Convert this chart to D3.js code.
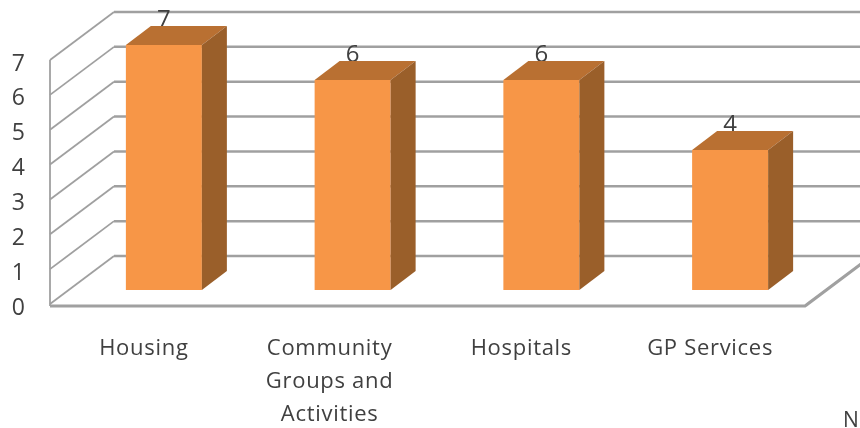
<!DOCTYPE html>
<html>
<head>
<meta charset="utf-8">
<script src="https://cdn.jsdelivr.net/npm/d3@7"></script>
<style>
  html, body { margin: 0; padding: 0; background: #fff; overflow: hidden; }
  text { font-family: "Open Sans", "Noto Sans", sans-serif; fill: #404040; }
</style>
</head>
<body>
<div id="chart"></div>
<script>
var categories = ["Housing", "Community Groups and Activities", "Hospitals", "GP Services"];
var values = [7, 6, 6, 4];
var yTicks = [0, 1, 2, 3, 4, 5, 6, 7];
var catLines = [["Housing"], ["Community", "Groups and", "Activities"], ["Hospitals"], ["GP Services"]];

var width = 860, height = 428;
var wallDx = 64, wallDy = -48;   // depth of the chart box
var barDx = 25, barDy = -19;     // depth of a bar
var barWidth = 76;

var svg = d3.select("#chart").append("svg")
    .attr("width", width)
    .attr("height", height);

// the reference is a soft, upscaled picture
svg.append("defs").append("filter")
    .attr("id", "soft")
  .append("feGaussianBlur")
    .attr("stdDeviation", 0.7);

var root = svg.append("g").attr("filter", "url(#soft)");

// set the ranges
var x = d3.scaleBand().domain(categories).range([69.5, 824.5]);
var yWall = d3.scaleLinear().domain([0, 7]).range([304, 60]);
var yBar = d3.scaleLinear().domain([0, 7]).range([290, 45]);

var gridColor = "#a0a0a0";

// back wall lines
root.append("g").selectAll("line")
    .data(yTicks)
    .enter().append("line")
    .attr("x1", 50 + wallDx)
    .attr("x2", width + 10)
    .attr("y1", function(d) { return yWall(d) + wallDy; })
    .attr("y2", function(d) { return yWall(d) + wallDy; })
    .attr("stroke", gridColor)
    .attr("stroke-width", 2.5);

// side wall lines
root.append("g").selectAll("line")
    .data(yTicks)
    .enter().append("line")
    .attr("x1", 50)
    .attr("x2", 50 + wallDx)
    .attr("y1", function(d) { return yWall(d); })
    .attr("y2", function(d) { return yWall(d) + wallDy; })
    .attr("stroke", gridColor)
    .attr("stroke-width", 1.8);

// side wall front edge
root.append("line")
    .attr("x1", 50).attr("x2", 50)
    .attr("y1", yWall(7)).attr("y2", yWall(0) + 2)
    .attr("stroke", gridColor)
    .attr("stroke-width", 1.8);

// floor
root.append("path")
    .attr("d", "M50," + (yWall(0) + 2) + "H805l" + wallDx + "," + wallDy)
    .attr("fill", "none")
    .attr("stroke", gridColor)
    .attr("stroke-width", 3);

function barLeft(d, i) {
  return x(categories[i]) + (x.bandwidth() - barWidth) / 2;
}

// data labels sit behind the bars
root.append("g").selectAll("text")
    .data(values)
    .enter().append("text")
    .attr("x", function(d, i) { return barLeft(d, i) + barWidth / 2; })
    .attr("y", function(d) { return yBar(d) - 18; })
    .attr("text-anchor", "middle")
    .style("font-size", "24px")
    .text(function(d) { return d; });

var bar = root.selectAll(".bar")
    .data(values)
    .enter().append("g")
    .attr("class", "bar");

bar.append("rect")
    .attr("x", barLeft)
    .attr("y", function(d) { return yBar(d); })
    .attr("width", barWidth)
    .attr("height", function(d) { return yBar(0) - yBar(d); })
    .attr("fill", "#f79646");

// top face
bar.append("path")
    .attr("d", function(d, i) {
      var l = barLeft(d, i), t = yBar(d);
      return "M" + l + "," + t + "l" + barDx + "," + barDy + "h" + barWidth +
             "l" + (-barDx) + "," + (-barDy) + "Z";
    })
    .attr("fill", "#b96f30");

// side face
bar.append("path")
    .attr("d", function(d, i) {
      var r = barLeft(d, i) + barWidth, t = yBar(d);
      return "M" + r + "," + t + "l" + barDx + "," + barDy +
             "V" + (yBar(0) + barDy) + "l" + (-barDx) + "," + (-barDy) + "Z";
    })
    .attr("fill", "#9a5f2b");

// y axis labels
var yAxis = root.append("g")
    .attr("transform", "translate(25,2)")
    .call(d3.axisLeft(yWall).tickValues(yTicks).tickSize(0).tickPadding(0).tickFormat(d3.format("d")));
yAxis.select(".domain").remove();
yAxis.selectAll("text")
    .attr("dy", ".35em")
    .style("font-size", "23px")
    .style("font-family", null);

// category labels
var cat = root.append("g").selectAll("text")
    .data(catLines)
    .enter().append("text")
    .attr("text-anchor", "middle")
    .style("font-size", "22px")
    .style("letter-spacing", "0.7px");

cat.selectAll("tspan")
    .data(function(d, i) {
      return d.map(function(s) { return {s: s, i: i}; });
    })
    .enter().append("tspan")
    .attr("x", function(d) { return barLeft(null, d.i) + barWidth / 2 - (d.i === 1 ? 23 : 20); })
    .attr("y", function(d, j) { return 355 + j * 33; })
    .text(function(d) { return d.s; });

// only the first letter of this text shows in the reference
root.append("text")
    .attr("x", 843)
    .attr("y", 427)
    .style("font-size", "21px")
    .text("N");
</script>
</body>
</html>
